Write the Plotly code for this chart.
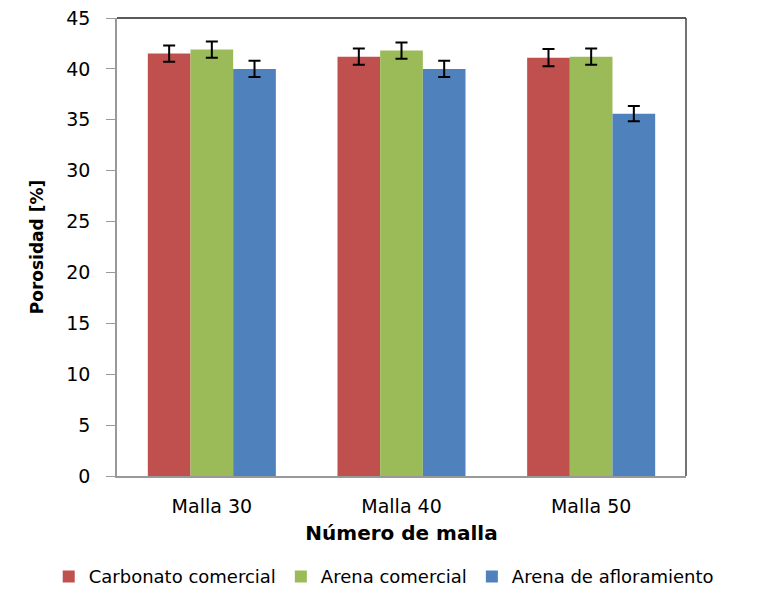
import plotly.graph_objects as go

categories = ['Malla 30', 'Malla 40', 'Malla 50']
carbonato = [41.5, 41.2, 41.1]
carbonato_err = [0.8, 0.8, 0.85]
arena_com = [41.9, 41.8, 41.2]
arena_com_err = [0.8, 0.8, 0.8]
arena_afl = [40.0, 40.0, 35.6]
arena_afl_err = [0.8, 0.8, 0.75]

font_family = 'DejaVu Sans, sans-serif'

fig = go.Figure()

series = [
    ('Carbonato comercial', carbonato, carbonato_err, '#C0504D'),
    ('Arena comercial', arena_com, arena_com_err, '#9BBB59'),
    ('Arena de afloramiento', arena_afl, arena_afl_err, '#4F81BD'),
]

for name, vals, errs, color in series:
    fig.add_trace(
        go.Bar(
            x=categories,
            y=vals,
            name=name,
            marker=dict(color=color, line=dict(width=0)),
            error_y=dict(type='data', array=errs, color='black', thickness=2, width=6),
        )
    )

# top and right border of plot area
fig.add_shape(type='line', xref='paper', yref='paper', x0=0, x1=1, y0=1, y1=1,
              line=dict(color='#222222', width=1.5))
fig.add_shape(type='line', xref='paper', yref='paper', x0=1, x1=1, y0=0, y1=1,
              line=dict(color='#444444', width=1.5))

# page body has an 8px margin, so the figure is 8px smaller than the window
fig.update_layout(
    barmode='group',
    bargap=0.325,
    bargroupgap=0,
    width=761,
    height=582,
    margin=dict(l=109, r=83, t=10, b=114, autoexpand=False),
    plot_bgcolor='white',
    paper_bgcolor='white',
    font=dict(family=font_family, size=19, color='black'),
    xaxis=dict(
        title=dict(text='<b>Número de malla</b>', font=dict(size=20), standoff=10),
        showline=True,
        linecolor='#999999',
        linewidth=1.5,
        ticks='',
        ticklabelstandoff=12,
        showgrid=False,
        tickfont=dict(size=19),
        automargin=False,
    ),
    yaxis=dict(
        title=dict(text='<b>Porosidad [%]</b>', font=dict(size=17), standoff=18),
        range=[0, 45],
        dtick=5,
        showline=True,
        linecolor='#999999',
        linewidth=1.5,
        ticks='outside',
        ticklen=9,
        tickcolor='#999999',
        ticklabelstandoff=12,
        ticklabeloverflow='allow',
        showgrid=False,
        zeroline=False,
        tickfont=dict(size=19),
        automargin=False,
    ),
    legend=dict(
        orientation='h',
        x=-0.12,
        xanchor='left',
        y=-0.22,
        yanchor='middle',
        font=dict(size=18),
        itemwidth=30,
        traceorder='normal',
    ),
)

fig.write_html('out.html')
